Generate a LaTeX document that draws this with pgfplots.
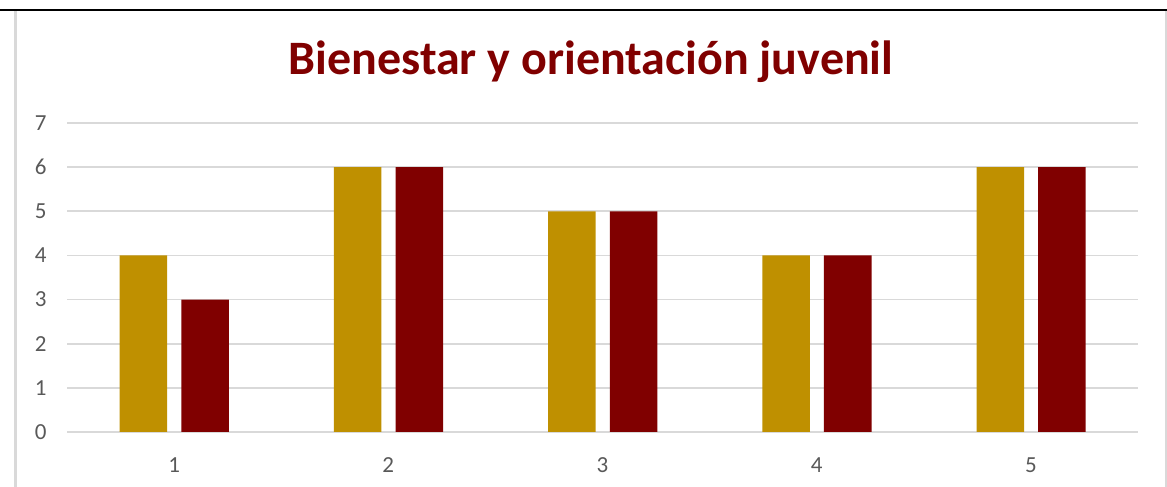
\documentclass[border=0pt]{standalone}
\usepackage{pgfplots}
\pgfplotsset{compat=1.18}
\usepackage{fontspec}
\setmainfont{Carlito}
\definecolor{gold}{HTML}{BF9000}
\definecolor{dred}{HTML}{800000}
\definecolor{gridc}{HTML}{D9D9D9}
\definecolor{tickc}{HTML}{595959}
\begin{document}
\begin{tikzpicture}
\path[use as bounding box] (0,0) rectangle (583.5pt,243.5pt);
\draw[gridc,line width=1.5pt] (7.5pt,0) -- (7.5pt,238pt);
\draw[gridc,line width=1pt] (583pt,0) -- (583pt,238pt);
\draw[black,line width=1.1pt] (0,238.5pt) -- (583.5pt,238.5pt);
\node[anchor=base,text=dred,font=\fontsize{24}{28}\selectfont\bfseries] at (295.5pt,206pt) {Bienestar y orientación juvenil};
\begin{axis}[
  at={(33.5pt,27.5pt)}, anchor=south west,
  width=535.5pt, height=154.5pt, scale only axis,
  xmin=0.5, xmax=5.5, ymin=0, ymax=7,
  axis line style={draw=none},
  major tick length=0pt,
  ytick={0,...,7}, xtick={1,...,5},
  ymajorgrids, grid style={gridc,line width=0.8pt},
  tick label style={text=tickc,font=\fontsize{11.5}{13}\selectfont,inner sep=0pt},
  /pgf/number format/assume math mode=true,
  yticklabel style={anchor=east},
  yticklabel shift=10pt,
  xticklabel style={anchor=north},
  xticklabel shift=12.5pt,
  ybar, bar width=0.222,
]
\addplot[fill=gold,draw=none,bar shift=-0.143] coordinates {(1,4) (2,6) (3,5) (4,4) (5,6)};
\addplot[fill=dred,draw=none,bar shift=0.145] coordinates {(1,3) (2,6) (3,5) (4,4) (5,6)};
\end{axis}
\end{tikzpicture}
\end{document}
